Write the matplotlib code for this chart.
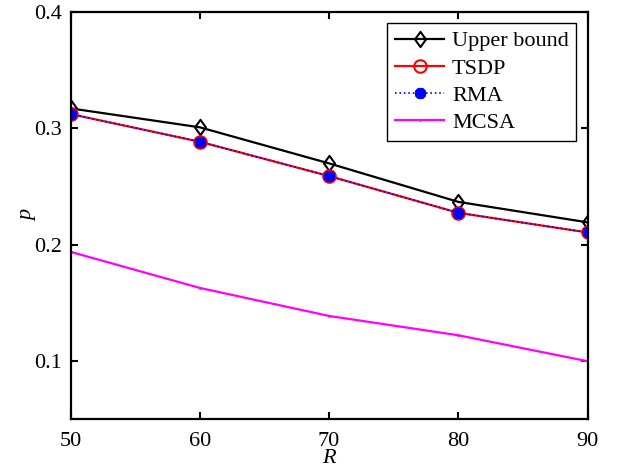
import matplotlib
matplotlib.use("Agg")
import matplotlib.pyplot as plt
from matplotlib.path import Path

R = [50, 60, 70, 80, 90]
upper_bound = [0.3171, 0.3008, 0.2698, 0.2367, 0.2191]
tsdp = [0.3122, 0.2884, 0.2589, 0.2273, 0.2104]
rma = [0.3122, 0.2884, 0.2589, 0.2273, 0.2104]
mcsa = [0.1937, 0.1627, 0.1386, 0.1220, 0.0997]

plt.rcParams['font.family'] = 'Liberation Serif'
plt.rcParams['font.size'] = 16

# slightly narrow diamond, like the MATLAB 'd' marker
diamond = Path([(0, 1), (0.72, 0), (0, -1), (-0.72, 0), (0, 1)],
               [Path.MOVETO, Path.LINETO, Path.LINETO, Path.LINETO, Path.CLOSEPOLY])

fig = plt.figure(figsize=(6.19, 4.68), dpi=100)
ax = fig.add_axes([0.1142, 0.1047, 0.8350, 0.8697])

ax.plot(R, upper_bound, color='k', lw=1.6, marker=diamond, ms=11, mfc='none', mew=1.5, label='Upper bound')
ax.plot(R, tsdp, color='r', lw=1.6, marker='o', ms=9, mfc='none', mew=1.5, label='TSDP')
ax.plot(R, rma, color='b', lw=1.2, ls=':', marker=(8, 2, 0), ms=8, mew=2.6, mec='b', label='RMA')
ax.plot(R, mcsa, color='magenta', lw=1.6, marker='.', ms=2, label='MCSA')

ax.set_xlim(50, 90)
ax.set_ylim(0.05, 0.4)
ax.set_xticks(R)
ax.set_yticks([0.1, 0.2, 0.3, 0.4])
ax.set_yticklabels(['0.1', '0.2', '0.3', '0.4'])
ax.tick_params(direction='in', length=5, width=1.5, top=True, right=True)
ax.tick_params(axis='x', pad=9)
ax.tick_params(axis='y', pad=6)
for s in ax.spines.values():
    s.set_linewidth(1.6)

ax.set_xlabel('R', style='italic', labelpad=-1)
ax.set_ylabel('p', style='italic', labelpad=-2)

leg = ax.legend(loc='upper right', fancybox=False, edgecolor='k', framealpha=1,
                handlelength=2.2, handletextpad=0.35, borderpad=0.35, labelspacing=0.3,
                borderaxespad=0.5)
leg.get_frame().set_linewidth(1.0)

fig.savefig('out.png', dpi=100)
